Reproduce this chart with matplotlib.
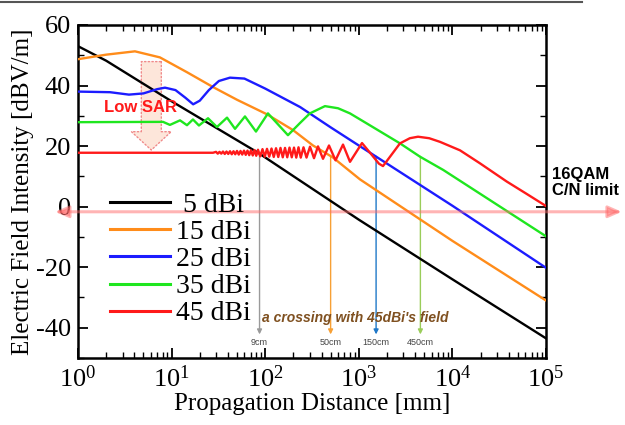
import numpy as np
import matplotlib
matplotlib.use('Agg')
import matplotlib.pyplot as plt
import matplotlib.transforms as mtransforms
from matplotlib.patches import FancyArrowPatch
from matplotlib.lines import Line2D
from matplotlib.ticker import MultipleLocator, LogLocator, NullFormatter

plt.rcParams['font.family'] = 'Liberation Serif'
plt.rcParams['mathtext.fontset'] = 'custom'
plt.rcParams['mathtext.rm'] = 'Liberation Serif'
plt.rcParams['mathtext.it'] = 'Liberation Serif:italic'
plt.rcParams['axes.unicode_minus'] = False

# distance [mm] / field [dBV/m] for each antenna gain
d5 = [1, 2, 10, 84, 1000, 1e4, 1e5]
e5 = [53, 48.2, 34.8, 17.8, -4.3, -24, -43.5]

d15 = [1, 2, 4.06, 7.5, 14.6, 27.7, 50, 104.5, 198, 324, 526, 1030, 1e4, 1e5]
e15 = [48.7, 50.2, 51.3, 49.3, 44.4, 39.5, 35.3, 30.5, 25.3, 20.2, 16.3, 9.0, -11.3, -31]

d25 = [1, 2.2, 3.5, 5, 7, 8.5, 11, 14, 17, 20, 25, 32, 42, 60, 100, 236, 500, 1000, 1e4, 1e5]
e25 = [38.0, 37.8, 37.0, 37.4, 38.8, 39.3, 38.5, 36.0, 33.8, 35.0, 38.5, 41.5, 42.6, 42.3,
       39.0, 32.9, 26.2, 20.2, 0.3, -20.2]

d35 = [1, 8.1, 9.6, 12.3, 14.6, 16.9, 19.6, 24.5, 30.5, 39.1, 47.6, 60.8, 79.7, 107, 175,
       235, 300, 435, 600, 805, 1214, 1828, 2754, 4508, 8000, 1e5]
e35 = [27.9, 28.0, 27.0, 28.5, 26.9, 28.8, 26.8, 29.2, 26.3, 29.4, 25.7, 29.8, 24.8, 30.8, 23.6,
       27.6, 30.8, 33.2, 32.5, 30.8, 27.5, 24.2, 20.9, 16.5, 12.1, -9.8]

d45 = [1, 27.69, 29.82, 31.13, 32.50, 33.93, 35.41, 36.97, 38.60, 40.30, 42.07, 43.92, 45.85,
       47.86, 49.96, 52.17, 54.46, 56.86, 59.35, 61.96, 64.68, 67.53, 70.50, 73.62, 76.85,
       80.23, 83.76, 88.53, 93.58, 98.90, 104.5, 110.5, 116.8, 123.4, 130.5, 137.9, 145.7,
       154.0, 162.8, 172.0, 181.8, 192.2, 203.1, 214.7, 226.9, 239.8, 256.6, 276.3, 301.0,
       332.2, 366.6, 414.6, 480.4, 563.8, 678.1, 805.4, 1082, 1384, 1640, 1813, 2040, 2755,
       3510, 4291, 5650, 7371, 12060, 19720, 38030, 62200, 1e5]
e45 = [17.8, 17.8, 18.1, 17.5, 18.1, 17.5, 18.2, 17.4, 18.2, 17.4, 18.3, 17.3, 18.3,
       17.3, 18.4, 17.2, 18.4, 17.2, 18.5, 17.1, 18.5, 17.0, 18.6, 16.9, 18.7,
       16.8, 18.8, 16.6, 19.0, 16.5, 19.1, 16.5, 19.2, 16.4, 19.3, 16.4, 19.4,
       16.3, 19.4, 16.3, 19.5, 16.3, 19.5, 16.2, 19.6, 16.2, 19.6, 16.2, 19.8,
       16.0, 19.9, 15.8, 20.2, 15.3, 20.5, 14.8, 21.0, 17.0, 14.2, 13.4, 15.5, 20.9,
       22.6, 23.1, 22.6, 21.4, 18.6, 14.3, 8.3, 4.2, 0.2]

series = [(d5, e5, ' 5 dBi', '#000000'),
          (d15, e15, '15 dBi', '#ff8c1a'),
          (d25, e25, '25 dBi', '#1c1cff'),
          (d35, e35, '35 dBi', '#1fe61f'),
          (d45, e45, '45 dBi', '#ff1a1a')]

# where the 45 dBi field crosses the others
cross_d = [87, 500, 1530, 4550]
cross_e = [17.2, 16.6, 16.6, 16.6]
cross_lbl = ['9cm', '50cm', '150cm', '450cm']
cross_col = ['#9a9a9a', '#f7a035', '#1f78c8', '#9acd5a']

cn_limit = -1.7

fig = plt.figure(figsize=(6.25, 4.25), dpi=100)
ax = fig.add_axes([0.1248, 0.1576, 0.7488, 0.7836])

for d, e, lbl, c in series:
    ax.plot(d, e, color=c, lw=1.7, label=lbl, zorder=3)

ax.set_xscale('log')
ax.set_xlim(1, 1e5)
ax.set_ylim(-50, 60)
ax.yaxis.set_major_locator(MultipleLocator(20))
ax.yaxis.set_minor_locator(MultipleLocator(10))
ax.xaxis.set_major_locator(LogLocator(base=10, numticks=12))
ax.xaxis.set_minor_locator(LogLocator(base=10, subs=np.arange(2, 10), numticks=12))
ax.xaxis.set_minor_formatter(NullFormatter())
ax.tick_params(which='both', direction='in', top=True, right=True, labelsize=19)
ax.tick_params(which='major', length=7, width=1.3, pad=5)
ax.tick_params(which='minor', length=4, width=1.0)
for s in ax.spines.values():
    s.set_linewidth(1.8)

ax.set_xlabel('Propagation Distance [mm]', fontsize=18, labelpad=1)
ax.set_ylabel('Electric Field Intensity [dBV/m]', fontsize=18, labelpad=1)

leg = ax.legend(loc='upper left', bbox_to_anchor=(0.068, 0.497), frameon=False,
                fontsize=20, handlelength=2.15, handletextpad=0.25, labelspacing=0.06,
                borderpad=0, borderaxespad=0)
for h in leg.get_lines():
    h.set_linewidth(2.2)

# hollow "Low SAR" arrow
big = FancyArrowPatch((6.07, 47.9), (6.07, 18.7),
                      arrowstyle='simple,head_length=1.32,head_width=2.86,tail_width=1.44',
                      mutation_scale=10, shrinkA=0, shrinkB=0,
                      fc='#fde6da', ec='#f08a8a', lw=1.0, ls=':', zorder=1)
ax.add_patch(big)
ax.text(4.71, 32.6, 'Low SAR', color='#ff1a1a', fontsize=12, fontweight='bold',
        family='Liberation Sans', ha='center', va='center', zorder=4)

# crossing arrows
for d, e, lbl, c in zip(cross_d, cross_e, cross_lbl, cross_col):
    ax.annotate('', xy=(d, -42.2), xytext=(d, e),
                arrowprops=dict(arrowstyle='-|>', color=c, lw=1.0, mutation_scale=7,
                                shrinkA=0, shrinkB=0), zorder=2)
    ax.text(d, -44.8, lbl, fontsize=6.5, family='Liberation Sans', color='#444444',
            ha='center', va='center')
ax.text(93, -36.7, "a crossing with 45dBi's field", fontsize=10, fontweight='bold',
        style='italic', family='Liberation Sans', color='#7f5020', ha='left', va='center')

# C/N limit line
tr = mtransforms.blended_transform_factory(ax.transAxes, ax.transData)
lim = FancyArrowPatch((-0.049, cn_limit), (1.162, cn_limit), transform=tr,
                      arrowstyle='<|-|>,head_length=0.8,head_width=0.35', mutation_scale=10,
                      shrinkA=0, shrinkB=0, color='#ff6b6b', alpha=0.5, lw=2.2,
                      clip_on=False, zorder=5)
ax.add_patch(lim)
ax.text(1.013, 7.9, '16QAM\nC/N limit', transform=tr, fontsize=12, fontweight='bold',
        family='Liberation Sans', ha='left', va='center', linespacing=1.1)

fig.add_artist(Line2D([0, 0.931], [0.995, 0.995], color='#555555', lw=1.5))

fig.savefig('out.png', dpi=100)
